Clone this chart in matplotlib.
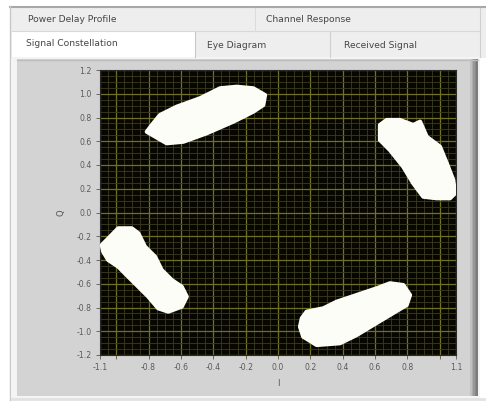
import numpy as np
import matplotlib
matplotlib.use("Agg")
import matplotlib.pyplot as plt
from matplotlib.patches import Rectangle, Polygon
from matplotlib.ticker import MultipleLocator

# ---- data -----------------------------------------------------------------
# Outlines of the four received-symbol clouds (I, Q)
cloud_q1_i = [-0.811, -0.688, -0.585, -0.441, -0.276, -0.153, -0.091, -0.080,
              -0.153, -0.255, -0.358, -0.482, -0.626, -0.729, -0.771]
cloud_q1_q = [0.680, 0.583, 0.596, 0.667, 0.765, 0.849, 0.905, 0.989,
              1.046, 1.059, 1.046, 0.962, 0.891, 0.821, 0.751]

cloud_q2_i = [0.630, 0.672, 0.754, 0.836, 0.878, 0.919, 1.001, 1.043, 1.083,
              1.094, 1.063, 0.981, 0.898, 0.836, 0.774, 0.692, 0.630]
cloud_q2_q = [0.737, 0.779, 0.779, 0.737, 0.765, 0.638, 0.554, 0.414, 0.274,
              0.162, 0.120, 0.120, 0.133, 0.246, 0.386, 0.526, 0.611]

cloud_q3_i = [-1.089, -1.038, -0.987, -0.904, -0.863, -0.822, -0.760, -0.719,
              -0.657, -0.595, -0.564, -0.595, -0.678, -0.740, -0.801, -0.863,
              -0.925, -0.987, -1.049, -1.080]
cloud_q3_q = [-0.274, -0.204, -0.133, -0.133, -0.175, -0.288, -0.372, -0.484,
              -0.568, -0.625, -0.709, -0.793, -0.835, -0.807, -0.709, -0.625,
              -0.541, -0.456, -0.400, -0.330]

cloud_q4_i = [0.147, 0.177, 0.280, 0.363, 0.486, 0.610, 0.692, 0.774, 0.816,
              0.795, 0.692, 0.589, 0.486, 0.383, 0.239, 0.156, 0.136]
cloud_q4_q = [-0.891, -0.835, -0.807, -0.751, -0.695, -0.638, -0.596, -0.611,
              -0.695, -0.779, -0.863, -0.947, -1.032, -1.101, -1.116, -1.046,
              -0.962]

x_ticks = [-1.1, -1.0, -0.8, -0.6, -0.4, -0.2, 0.0, 0.2, 0.4, 0.6, 0.8, 1.0, 1.1]
x_tick_labels = ["-1.1", "", "-0.8", "-0.6", "-0.4", "-0.2", "0.0", "0.2",
                 "0.4", "0.6", "0.8", "", "1.1"]
y_ticks = [1.2, 1.0, 0.8, 0.6, 0.4, 0.2, 0.0, -0.2, -0.4, -0.6, -0.8, -1.0, -1.2]
y_tick_labels = ["1.2", "1.0", "0.8", "0.6", "0.4", "0.2", "0.0", "-0.2",
                 "-0.4", "-0.6", "-0.8", "-1.0", "-1.2"]

tabs_row1 = ["Power Delay Profile", "Channel Response"]
tabs_row2 = ["Signal Constellation", "Eye Diagram", "Received Signal"]

# ---- figure & window chrome ------------------------------------------------
W, H = 486, 405
fig = plt.figure(figsize=(W / 100, H / 100), dpi=100, facecolor="white")
plt.rcParams["font.family"] = ["DejaVu Sans"]

bg = fig.add_axes([0, 0, 1, 1], zorder=0)
bg.set_xlim(0, W)
bg.set_ylim(H, 0)
bg.axis("off")

# tab strip
bg.add_patch(Rectangle((10, 6), 476, 52, facecolor="#eeeeee", edgecolor="none"))
bg.plot([10, 486], [6.5, 6.5], color="#a8a8a8", lw=1.5)
bg.plot([10, 10], [6, 400], color="#c8c8c8", lw=1)
bg.plot([12, 480], [31, 31], color="#d8d8d8", lw=0.8)
bg.plot([255, 255], [8, 31], color="#dcdcdc", lw=0.8)
bg.plot([330, 330], [32, 57], color="#d0d0d0", lw=0.8)
bg.plot([480, 480], [8, 57], color="#d0d0d0", lw=0.8)
# selected tab
bg.add_patch(Rectangle((12, 32), 183, 27, facecolor="white", edgecolor="none"))
bg.plot([195, 195], [32, 57], color="#c8c8c8", lw=0.8)

tab_style = dict(fontsize=6.6, color="#454545", va="center")
bg.text(28, 20, tabs_row1[0], ha="left", **tab_style)
bg.text(266, 20, tabs_row1[1], ha="left", **tab_style)
bg.text(26, 44, tabs_row2[0], ha="left", **tab_style)
bg.text(207, 46, tabs_row2[1], ha="left", **tab_style)
bg.text(344, 46, tabs_row2[2], ha="left", **tab_style)

# panel
bg.add_patch(Rectangle((12, 57), 468, 342, facecolor="#f4f4f4", edgecolor="none"))
bg.add_patch(Rectangle((17, 59), 461, 337, facecolor="#d3d3d3", edgecolor="none"))
for k, c in enumerate(["#c0c0c0", "#acacac", "#989898", "#888888", "#7c7c7c"]):
    bg.add_patch(Rectangle((470 + k * 1.6, 59), 1.7, 337, facecolor=c,
                           edgecolor="none"))
bg.plot([17, 478], [59.5, 59.5], color="#bdbdbd", lw=1)
bg.plot([12, 486], [399, 399], color="#e2e2e2", lw=2)

# ---- constellation plot ---------------------------------------------------
left, right, top, bottom = 100, 456, 70, 355
ax = fig.add_axes([left / W, 1 - bottom / H, (right - left) / W, (bottom - top) / H],
                  zorder=2)
ax.set_facecolor("#070700")
ax.set_xlim(-1.1, 1.1)
ax.set_ylim(-1.2, 1.2)

ax.xaxis.set_minor_locator(MultipleLocator(0.05))
ax.yaxis.set_minor_locator(MultipleLocator(0.05))
ax.grid(which="minor", color="#3c3c22", lw=0.6)
ax.grid(which="major", color="#707026", lw=0.9)
ax.set_axisbelow(True)

for ci, cq in [(cloud_q1_i, cloud_q1_q), (cloud_q2_i, cloud_q2_q),
               (cloud_q3_i, cloud_q3_q), (cloud_q4_i, cloud_q4_q)]:
    ax.add_patch(Polygon(np.column_stack([ci, cq]), closed=True,
                         facecolor="#fdfdf8", edgecolor="#fdfdf8", lw=3.0,
                         joinstyle="round", zorder=3))
    ax.add_patch(Polygon(np.column_stack([ci, cq]), closed=True,
                         facecolor="none", edgecolor="#e4e4dc", lw=0.8,
                         joinstyle="round", zorder=2.9))

ax.set_xticks(x_ticks)
ax.set_xticklabels(x_tick_labels)
ax.set_yticks(y_ticks)
ax.set_yticklabels(y_tick_labels)
ax.tick_params(which="major", length=3, width=0.7, color="#6a6a6a",
               labelsize=5.6, labelcolor="#5a5a5a", pad=3)
ax.tick_params(which="minor", length=0)
for s in ax.spines.values():
    s.set_color("#2a2a2a")
    s.set_linewidth(0.8)

ax.set_xlabel("I", fontsize=6, color="#555555", labelpad=5)
ax.set_ylabel("Q", fontsize=6, color="#555555", labelpad=8)

fig.savefig("out.png", dpi=100, facecolor="white")
